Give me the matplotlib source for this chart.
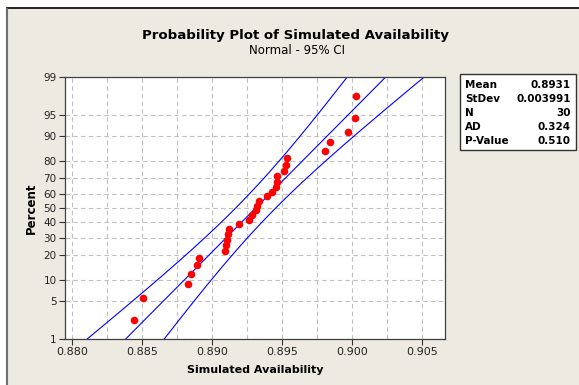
import numpy as np
import matplotlib
matplotlib.use("Agg")
import matplotlib.pyplot as plt
from matplotlib.patches import Rectangle
from matplotlib.lines import Line2D
from statistics import NormalDist

# simulated availability values, sorted
availability = [0.88439, 0.88503, 0.88824, 0.88848, 0.88889, 0.88905,
                0.89089, 0.89096, 0.89102, 0.89110, 0.89118, 0.89191,
                0.89262, 0.89281, 0.89312, 0.89317, 0.89334, 0.89391,
                0.89426, 0.89457, 0.89462, 0.89464, 0.89514, 0.89529,
                0.89536, 0.89803, 0.89843, 0.89971, 0.90017, 0.90024]

mean = 0.8931
stdev = 0.003991
n = 30
stat_labels = ["Mean", "StDev", "N", "AD", "P-Value"]
stat_values = ["0.8931", "0.003991", "30", "0.324", "0.510"]

pct_ticks = [1, 5, 10, 20, 30, 40, 50, 60, 70, 80, 90, 95, 99]
x_ticks = [0.880, 0.885, 0.890, 0.895, 0.900, 0.905]

nd = NormalDist()
_ppf = np.vectorize(lambda p: nd.inv_cdf(min(max(p / 100.0, 1e-9), 1 - 1e-9)), otypes=[float])
_cdf = np.vectorize(lambda z: nd.cdf(z) * 100.0, otypes=[float])


def ppf(p):
    return _ppf(np.asarray(p, dtype=float))


def cdf(z):
    return _cdf(np.asarray(z, dtype=float))


# median rank (Benard) plotting positions
ranks = np.arange(1, n + 1)
pct = (ranks - 0.3) / (n + 0.4) * 100

# fitted line and 95% CI
z = np.linspace(-3, 3, 200)
fit = mean + z * stdev
half = 1.96 * stdev / np.sqrt(n) * np.sqrt(1 + z ** 2 / 2)
pz = cdf(z)

W, H = 579, 385
fig = plt.figure(figsize=(W / 100, H / 100), dpi=100, facecolor="white")
beige = "#EDEAE1"
fig.patches.append(Rectangle((7 / W, 0), 1, 1 - 8 / H, transform=fig.transFigure,
                             facecolor=beige, edgecolor="none", zorder=-10))
fig.lines.append(Line2D([7 / W, 1], [1 - 8 / H, 1 - 8 / H], transform=fig.transFigure,
                        color="black", lw=1.2))
fig.lines.append(Line2D([7.5 / W, 7.5 / W], [0, 1 - 9 / H], transform=fig.transFigure,
                        color="#6e6e6e", lw=1.5))

ax = fig.add_axes([65 / W, 1 - 339 / H, 380 / W, 262 / H])
ax.set_facecolor("white")
ax.set_yscale("function", functions=(ppf, cdf))

ax.plot(fit, pz, color="#0000FF", lw=0.8)
ax.plot(fit - half, pz, color="#0000FF", lw=0.8)
ax.plot(fit + half, pz, color="#0000FF", lw=0.8)
ax.scatter(availability, pct, s=30, color="#FF0000", zorder=3, linewidths=0)

ax.set_yticks(pct_ticks)
ax.set_yticklabels([str(t) for t in pct_ticks])
ax.set_xticks(x_ticks)
ax.set_xticklabels(["%.3f" % t for t in x_ticks])
ax.set_xticks(np.arange(0.8775, 0.9076, 0.0025), minor=True)
ax.set_xlim(0.87948, 0.90662)
ax.set_ylim(1, 99)
ax.yaxis.set_minor_locator(matplotlib.ticker.NullLocator())
ax.tick_params(axis="x", which="minor", length=0)
ax.tick_params(axis="both", which="major", labelsize=8, length=4, width=0.8,
               color="#333333", labelcolor="#222222", pad=2)
ax.tick_params(axis="y", labelsize=7.5)
ax.grid(True, which="both", axis="x", color="#c0c0c0", ls=(0, (4, 3)), lw=0.8)
ax.grid(True, which="major", axis="y", color="#c0c0c0", ls=(0, (4, 3)), lw=0.8)
ax.set_axisbelow(True)
for s in ax.spines.values():
    s.set_color("#404040")
    s.set_linewidth(0.9)

fig.text(296 / W, 1 - 36 / H, "Probability Plot of Simulated Availability",
         ha="center", va="center", fontsize=9.6, fontweight="bold")
fig.text(297 / W, 1 - 51 / H, "Normal - 95% CI", ha="center", va="center", fontsize=8.5)
fig.text(255 / W, 1 - 370 / H, "Simulated Availability", ha="center", va="center",
         fontsize=8, fontweight="bold")
fig.text(31 / W, 1 - 208 / H, "Percent", ha="center", va="center", rotation=90,
         fontsize=8.5, fontweight="bold")

# stats box
fig.patches.append(Rectangle((460 / W, 1 - 150 / H), 116 / W, 76 / H,
                             transform=fig.transFigure, facecolor="white",
                             edgecolor="#333333", lw=1.0))
for k, (lab, val) in enumerate(zip(stat_labels, stat_values)):
    yy = 1 - (85 + 14 * k) / H
    fig.text(465 / W, yy, lab, ha="left", va="center", fontsize=7.5, fontweight="bold")
    fig.text(571 / W, yy, val, ha="right", va="center", fontsize=7.5, fontweight="bold")

fig.savefig("out.png", dpi=100, facecolor=fig.get_facecolor())
